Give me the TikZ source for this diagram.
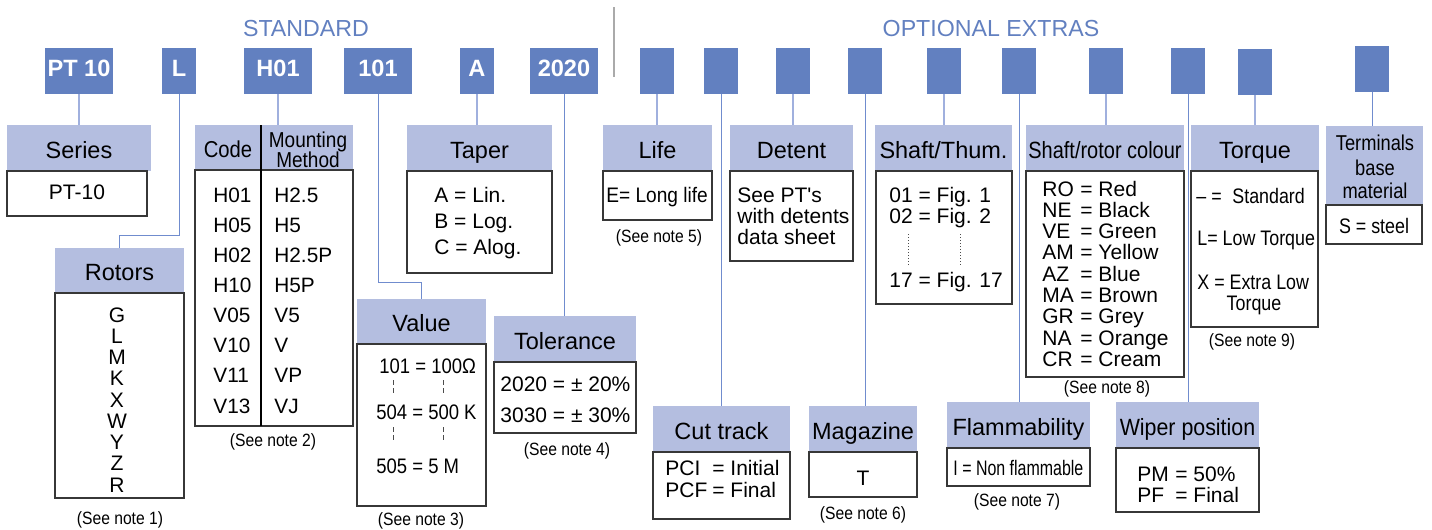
\documentclass[tikz,border=0pt]{standalone}
\usepackage{fontspec}
\setmainfont{Liberation Sans}
\newfontfamily\nA[FakeStretch=0.88]{Liberation Sans}
\newfontfamily\nB[FakeStretch=0.85]{Liberation Sans}
\newfontfamily\nC[FakeStretch=0.76]{Liberation Sans}
\newfontfamily\nD[FakeStretch=0.91]{Liberation Sans}
\newcommand\myfs[1]{\fontsize{#1}{#1}\selectfont}
\definecolor{topblue}{RGB}{98,128,192}
\definecolor{hdrblue}{RGB}{180,190,224}
\definecolor{conlight}{RGB}{160,176,222}
\definecolor{condark}{RGB}{112,140,206}
\definecolor{boxline}{RGB}{55,55,55}
\definecolor{divgray}{RGB}{170,170,170}
\newcommand\pbox[7]{\node[#6,minimum width={(#4-#2)*0.5pt},minimum height={(#5-#3)*0.5pt}] (#1) at ({(#2+#4)/2},{(#3+#5)/2}) {#7};}
\begin{document}
\begin{tikzpicture}[x=0.5pt,y=-0.5pt,
  topbox/.style={fill=topblue,text=white,font=\bfseries\myfs{11.8},inner sep=0pt,outer sep=0pt,text height=8.45pt,text depth=3pt},
  hdr/.style={fill=hdrblue,inner sep=0pt,outer sep=0pt,font=\myfs{11.75},text height=10.4pt,text depth=0pt},
  cbox/.style={draw=boxline,line width=0.6pt,fill=white,inner sep=0pt,outer sep=0pt},
  txt/.style={anchor=base west,inner sep=0pt,font=\myfs{10.5}},
  ctxt/.style={anchor=base,inner sep=0pt,font=\myfs{10.5}},
  note/.style={anchor=base,inner sep=0pt,font=\nA\myfs{8.9}},
  con/.style={draw=conlight,line width=0.75pt},
  conl/.style={draw=condark,line width=0.5pt},
  sect/.style={anchor=base,inner sep=0pt,text=topblue,font=\myfs{11.6}},
  tick/.style={draw=black!70,line width=0.4pt,dash pattern=on 2.5pt off 1.5pt},
  dotl/.style={draw=black!70,line width=0.4pt,dash pattern=on 0.6pt off 0.9pt},
  tline/.style={draw=black,line width=0.6pt}]
\useasboundingbox (0,0) rectangle (1432,530);

% section titles and divider
\node[sect] (sStd) at (306,36) {STANDARD};
\node[sect] (sOpt) at (991,36) {OPTIONAL EXTRAS};
\coordinate (dvA) at (614,7);
\coordinate (dvB) at (614,77);
\draw[divgray,line width=0.6pt] (dvA) -- (dvB);

% top code boxes
\pbox{t1}{45}{48}{113}{94}{topbox}{PT 10}
\pbox{t2}{162}{48}{196}{94}{topbox}{L}
\pbox{t3}{244}{48}{312}{94}{topbox}{H01}
\pbox{t4}{344}{48}{412}{94}{topbox}{101}
\pbox{t5}{460}{48}{494}{94}{topbox}{A}
\pbox{t6}{530}{48}{598}{94}{topbox}{2020}
\pbox{o1}{640}{48}{674}{94}{topbox}{}
\pbox{o2}{704}{48}{738}{94}{topbox}{}
\pbox{o3}{776}{48}{810}{94}{topbox}{}
\pbox{o4}{848}{48}{882}{94}{topbox}{}
\pbox{o5}{927}{48}{961}{94}{topbox}{}
\pbox{o6}{1002}{48}{1036}{94}{topbox}{}
\pbox{o7}{1089}{48}{1123}{94}{topbox}{}
\pbox{o8}{1171}{48}{1205}{94}{topbox}{}
\pbox{o9}{1238}{49}{1272}{95}{topbox}{}
\pbox{o10}{1355}{46}{1389}{92}{topbox}{}

% Series
\pbox{hSer}{7}{125}{151}{171}{hdr}{Series}
\pbox{cSer}{7}{171}{147}{216}{cbox}{}
\node[ctxt] (tSer) at (77,199) {PT-10};

% Rotors
\pbox{hRot}{55}{248}{184}{293}{hdr}{Rotors}
\pbox{cRot}{55}{293}{184}{498}{cbox}{}
\foreach \l [count=\i from 0] in {G,L,M,K,X,W,Y,Z,R}
  \node[ctxt] (rot\i) at (117,{322+\i*21.25}) {\l};
\node[note] (n1) at (120,524) {(See note 1)};

% Code / Mounting method
\pbox{hCode}{195}{125}{353}{170}{hdr}{}
\pbox{cCode}{195}{170}{353}{426}{cbox}{}
\node[anchor=base,inner sep=0pt,font=\nA\myfs{11.5}] (tCode) at (228,157) {Code};
\node[anchor=base,inner sep=0pt,font=\nA\myfs{10.8}] (tMnt) at (308,147) {Mounting};
\node[anchor=base,inner sep=0pt,font=\nA\myfs{10.8}] (tMth) at (308,167) {Method};
\coordinate (cdA) at (261,125);
\coordinate (cdB) at (261,426);
\draw[tline] (cdA) -- (cdB);
\foreach \c/\v [count=\i from 0] in {H01/H2.5,H05/H5,H02/H2.5P,H10/H5P,V05/V5,V10/V,V11/VP,V13/VJ}{
  \node[txt,font=\myfs{10.4}] (cc\i) at (213,{202+\i*30.15}) {\c};
  \node[txt,font=\myfs{10.4}] (cv\i) at (274,{202+\i*30.15}) {\v};
}
\node[note] (n2) at (273,446) {(See note 2)};

% Value
\pbox{hVal}{357}{299}{486}{344}{hdr}{Value}
\pbox{cVal}{357}{344}{486}{506}{cbox}{}
\node[txt,font=\nA\myfs{10.5}] (v1) at (379,373) {101 = 100Ω};
\node[txt,font=\nA\myfs{10.5}] (v2) at (376,419) {504 = 500 K};
\node[txt,font=\nA\myfs{10.5}] (v3) at (376,473) {505 = 5 M};
\draw[tick] (393,380) -- (393,395);
\draw[tick] (443,380) -- (443,395);
\draw[tick] (393,427) -- (393,442);
\draw[tick] (443,427) -- (443,442);
\node[note] (n3) at (421,525) {(See note 3)};

% Taper
\pbox{hTap}{407}{125}{552}{171}{hdr}{Taper}
\pbox{cTap}{407}{171}{552}{273}{cbox}{}
\node[txt] (ta1) at (434,202) {A = Lin.};
\node[txt] (ta2) at (434,228) {B = Log.};
\node[txt] (ta3) at (434,254) {C = Alog.};

% Tolerance
\pbox{hTol}{494}{316}{636}{362}{hdr}{Tolerance}
\pbox{cTol}{494}{362}{636}{433}{cbox}{}
\node[txt] (to1) at (500,391) {2020 = ± 20\%};
\node[txt] (to2) at (500,422) {3030 = ± 30\%};
\node[note] (n4) at (567,455) {(See note 4)};

% Life
\pbox{hLife}{603}{125}{712}{171}{hdr}{Life}
\pbox{cLife}{603}{171}{712}{220}{cbox}{}
\node[txt,font=\nD\myfs{10.5}] (li1) at (606,202) {E= Long life};
\node[note] (n5) at (659,242) {(See note 5)};

% Detent
\pbox{hDet}{730}{125}{853}{171}{hdr}{Detent}
\pbox{cDet}{730}{171}{853}{261}{cbox}{}
\node[txt] (de1) at (737,202) {See PT\textquotesingle s};
\node[txt] (de2) at (737,223) {with detents};
\node[txt] (de3) at (737,244) {data sheet};

% Shaft/Thum.
\pbox{hSh}{875}{125}{1012}{171}{hdr}{Shaft/Thum.}
\pbox{cSh}{876}{171}{1012}{304}{cbox}{}
\node[txt] (sh1) at (889,202) {01 = Fig. 1};
\node[txt] (sh2) at (889,223) {02 = Fig. 2};
\node[txt] (sh3) at (889,287) {17 = Fig. 17};
\draw[dotl] (908,234) -- (908,266);
\draw[dotl] (960,234) -- (960,266);

% Cut track
\pbox{hCut}{653}{406}{790}{452}{hdr}{Cut track}
\pbox{cCut}{653}{452}{790}{519}{cbox}{}
\node[txt] (cu1) at (665,475) {PCI};
\node[txt] (cu2) at (712,475) {= Initial};
\node[txt] (cu3) at (665,497) {PCF};
\node[txt] (cu4) at (712,497) {= Final};

% Magazine
\pbox{hMag}{809}{406}{917}{452}{hdr}{Magazine}
\pbox{cMag}{809}{452}{917}{497}{cbox}{}
\node[ctxt] (ma1) at (863,485) {T};
\node[note] (n6) at (863,519) {(See note 6)};

% Flammability
\pbox{hFl}{947}{402}{1090}{448}{hdr}{Flammability}
\pbox{cFl}{947}{448}{1090}{486}{cbox}{}
\node[txt,font=\nC\myfs{10.5}] (fl1) at (953,475) {I = Non flammable};
\node[note] (n7) at (1017,506) {(See note 7)};

% Shaft/rotor colour
\pbox{hCol}{1026}{125}{1184}{171}{hdr,font=\nB\myfs{11.75}}{Shaft/rotor colour}
\pbox{cCol}{1026}{171}{1184}{377}{cbox}{}
\foreach \c/\v [count=\i from 0] in {RO/Red,NE/Black,VE/Green,AM/Yellow,AZ/Blue,MA/Brown,GR/Grey,NA/Orange,CR/Cream}{
  \node[txt] (colc\i) at (1042,{196+\i*21.3}) {\c};
  \node[txt] (colv\i) at (1080,{196+\i*21.3}) {= \v};
}
\node[note] (n8) at (1107,393) {(See note 8)};

% Wiper position
\pbox{hWip}{1116}{402}{1259}{448}{hdr,font=\nD\myfs{11.75}}{Wiper position}
\pbox{cWip}{1116}{448}{1259}{512}{cbox}{}
\node[txt] (wi1) at (1137,481) {PM};
\node[txt] (wi2) at (1175,481) {= 50\%};
\node[txt] (wi3) at (1137,502) {PF};
\node[txt] (wi4) at (1175,502) {= Final};

% Torque
\pbox{hTor}{1191}{125}{1319}{171}{hdr}{Torque}
\pbox{cTor}{1191}{171}{1318}{327}{cbox}{}
\node[txt,font=\nB\myfs{10.5}] (tq1) at (1196,203) {– =};
\node[txt,font=\nB\myfs{10.5}] (tq2) at (1232,203) {Standard};
\node[txt,font=\nB\myfs{10.5}] (tq3) at (1197,245) {L= Low Torque};
\node[txt,font=\nB\myfs{10.5}] (tq4) at (1197,289) {X = Extra Low};
\node[ctxt,font=\nB\myfs{10.5}] (tq5) at (1254,310) {Torque};
\node[note] (n9) at (1252,346) {(See note 9)};

% Terminals base material
\pbox{hTer}{1326}{126}{1423}{205}{hdr}{}
\node[anchor=base,inner sep=0pt,font=\nB\myfs{10.75}] (te1) at (1375,150) {Terminals};
\node[anchor=base,inner sep=0pt,font=\nB\myfs{10.75}] (te2) at (1375,175) {base};
\node[anchor=base,inner sep=0pt,font=\nB\myfs{10.75}] (te3) at (1375,198) {material};
\pbox{cTer}{1326}{205}{1422}{244}{cbox}{}
\node[ctxt,font=\nB\myfs{10.5}] (te4) at (1374,233) {S = steel};

% connectors
\coordinate (kL) at (0,235);
\coordinate (k101) at (0,282);
\draw[con] (t1.south) -- (t1.south |- hSer.north);
\draw[conl] (t2.south) -- (t2.south |- kL) -| (hRot.north);
\draw[con] (t3.south) -- (t3.south |- hCode.north);
\draw[conl] (t4.south) -- (t4.south |- k101) -| (hVal.north);
\draw[con] (t5.south) -- (t5.south |- hTap.north);
\draw[conl] (t6.south) -- (t6.south |- hTol.north);
\draw[con] (o1.south) -- (o1.south |- hLife.north);
\draw[conl] (o2.south) -- (o2.south |- hCut.north);
\draw[con] (o3.south) -- (o3.south |- hDet.north);
\draw[conl] (o4.south) -- (o4.south |- hMag.north);
\draw[con] (o5.south) -- (o5.south |- hSh.north);
\draw[conl] (o6.south) -- (o6.south |- hFl.north);
\draw[con] (o7.south) -- (o7.south |- hCol.north);
\draw[conl] (o8.south) -- (o8.south |- hWip.north);
\draw[con] (o9.south) -- (o9.south |- hTor.north);
\draw[conl] (o10.south) -- (o10.south |- hTer.north);
\end{tikzpicture}
\end{document}
